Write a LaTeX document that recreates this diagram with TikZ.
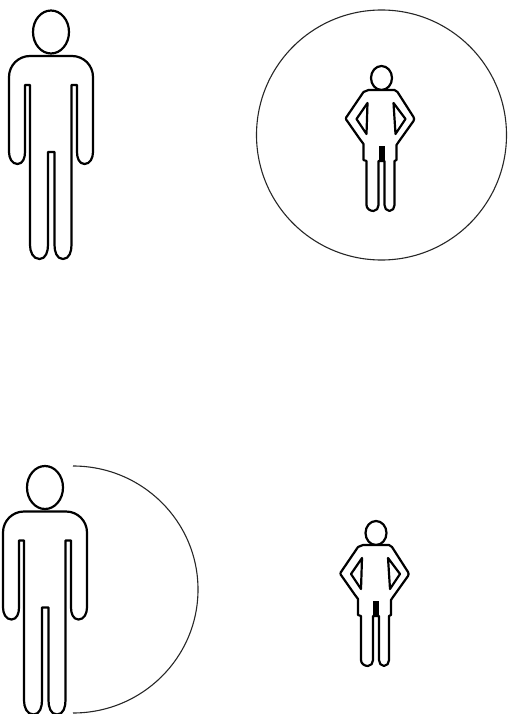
\documentclass[tikz,border=0pt]{standalone}
\usetikzlibrary{positioning}
\tikzset{
  figline/.style={draw=black, line width=2.2pt, line join=round, fill=white},
  rangeline/.style={draw=black!85, line width=1.1pt},
  pics/tallman/.style={code={
    \draw[figline] (0,0) ellipse [x radius=18, y radius=21.5];
    \draw[figline] (-21,24) -- (21,24) to[out=0,in=90] (42,45) -- (42,120)
      to[out=-90,in=0] (33.5,132) to[out=180,in=-90] (26,120) -- (26,53) -- (20.5,53)
      -- (20.5,213) to[out=-90,in=0] (12,227) to[out=180,in=-90] (3.5,213) -- (3.5,120) -- (-3,120)
      -- (-3,213) to[out=-90,in=0] (-11.5,227) to[out=180,in=-90] (-21,213) -- (-21,53)
      -- (-26,53) -- (-26,120) to[out=-90,in=0] (-33.5,132) to[out=180,in=-90] (-42,120)
      -- (-42,45) to[out=90,in=180] cycle;
  }},
  pics/shortman/.style={code={
    \draw[figline] (0,0) ellipse [x radius=10.5, y radius=12];
    \draw[figline] (-13,12) -- (13,12) -- (16,14) -- (32,39) to[out=-60,in=60] (32,43)
      -- (17,64) -- (15,67) -- (15,82) -- (13,83) -- (13,127) to[out=-90,in=0] (8,133)
      to[out=180,in=-90] (3,127) -- (3,83) -- (-3,83) -- (-3,127) to[out=-90,in=0] (-8,133)
      to[out=180,in=-90] (-15,127) -- (-15,83) -- (-18,82) -- (-18,66) -- (-21,62)
      -- (-35,42) to[out=-120,in=120] (-35,39) -- (-18,14) -- cycle;
    \draw[figline] (12,25) -- (24,41) -- (14,56) -- cycle;
    \draw[figline] (-14,25) -- (-25,41) -- (-15,56) -- cycle;
    \fill[black] (-3,68) rectangle (3,84);
  }}
}
\begin{document}
\begin{tikzpicture}[x=1pt, y=-1pt]
  \useasboundingbox (0,0) rectangle (507,714);

  % upper row
  \pic (A) at (51,32) {tallman};
  \draw[rangeline] (381.5,135) circle [radius=125];
  \pic (B) at (381.5,78) {shortman};

  % lower row
  \draw[rangeline] (73,466) arc [start angle=-90, end angle=90, x radius=125, y radius=123.5];
  \pic (C) at (45,487.5) {tallman};
  \pic (D) at (376,533) {shortman};
\end{tikzpicture}
\end{document}
